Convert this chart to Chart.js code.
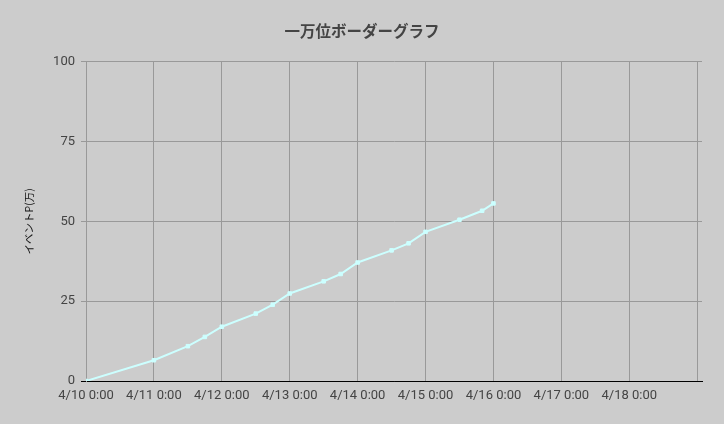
<!DOCTYPE html>
<html>
<head>
<meta charset="utf-8">
<script src="https://cdn.jsdelivr.net/npm/chart.js@4/dist/chart.umd.min.js"></script>
<style>
  html, body { margin: 0; padding: 0; background: #cccccc; }
  #wrap { width: 724px; height: 424px; }
</style>
</head>
<body>
<div id="wrap"><canvas id="myChart" width="724" height="424"></canvas></div>
<script>
// Stunden seit 4/10 0:00 und Event-Punkte (万)
const hoursSinceStart = [0, 24, 36, 42, 48, 60, 66, 72, 84, 90, 96, 108, 114, 120, 132, 140, 144];
const eventPoints = [0, 6.5, 10.9, 13.8, 17.0, 21.1, 23.9, 27.4, 31.2, 33.5, 37.1, 40.9, 43.1, 46.7, 50.5, 53.3, 55.6];
const dayLabels = ['4/10 0:00', '4/11 0:00', '4/12 0:00', '4/13 0:00', '4/14 0:00',
                   '4/15 0:00', '4/16 0:00', '4/17 0:00', '4/18 0:00'];
const yTicks = [0, 25, 50, 75, 100];

const points = hoursSinceStart.map((h, i) => ({ x: h, y: eventPoints[i] }));

// Hintergrund grau fuellen
const bgPlugin = {
    id: 'bg',
    beforeDraw(chart) {
        const c = chart.ctx;
        c.save();
        c.fillStyle = '#cccccc';
        c.fillRect(0, 0, chart.width, chart.height);
        c.restore();
    }
};

const config = {
    type: 'line',
    data: {
        datasets: [{
            label: 'イベントP(万)',
            data: points,
            borderColor: '#ccffff',
            backgroundColor: '#ccffff',
            borderWidth: 2,
            pointStyle: 'rect',
            pointRadius: 2.5,
            pointBorderWidth: 1,
            tension: 0
        }]
    },
    options: {
        responsive: false,
        animation: false,
        layout: { padding: 0 },
        plugins: {
            legend: { display: false },
            tooltip: { enabled: false },
            title: {
                display: true,
                text: '一万位ボーダーグラフ',
                color: '#444444',
                font: { family: "'Noto Sans CJK JP'", size: 15.5, weight: 'bold' },
                padding: { top: 22, bottom: 21 }
            }
        },
        scales: {
            x: {
                type: 'linear',
                min: 0,
                max: 217.7,
                afterFit: s => { s.height = 43; },
                grid: { color: '#999999', drawTicks: false },
                border: { color: '#000000', width: 1 },
                ticks: {
                    stepSize: 24,
                    includeBounds: false,
                    autoSkip: false,
                    maxRotation: 0,
                    padding: 7,
                    color: '#444444',
                    font: { family: 'Roboto', size: 13 },
                    callback: (v, i) => dayLabels[i] ?? ''
                }
            },
            y: {
                min: yTicks[0],
                max: yTicks[yTicks.length - 1],
                afterFit: s => { s.width = 86; },
                grid: {
                    color: c => (c.tick && c.tick.value === 0) ? '#000000' : '#999999',
                    tickLength: 5
                },
                border: { color: '#999999' },
                ticks: {
                    stepSize: 25,
                    padding: 6,
                    color: '#444444',
                    font: { family: 'Roboto', size: 13 }
                },
                title: {
                    display: true,
                    text: 'イベントP(万)',
                    color: '#111111',
                    font: { family: "'Noto Sans CJK JP'", size: 10.5 },
                    padding: { top: 23, bottom: 0 }
                }
            },
            // leere Achse rechts, nur als Abstand
            yRight: {
                position: 'right',
                min: 0,
                max: 1,
                afterFit: s => { s.width = 22; },
                grid: { display: false },
                border: { display: false },
                ticks: { display: false }
            }
        }
    },
    plugins: [bgPlugin]
};

new Chart(document.querySelector('#myChart').getContext('2d'), config);
</script>
</body>
</html>
